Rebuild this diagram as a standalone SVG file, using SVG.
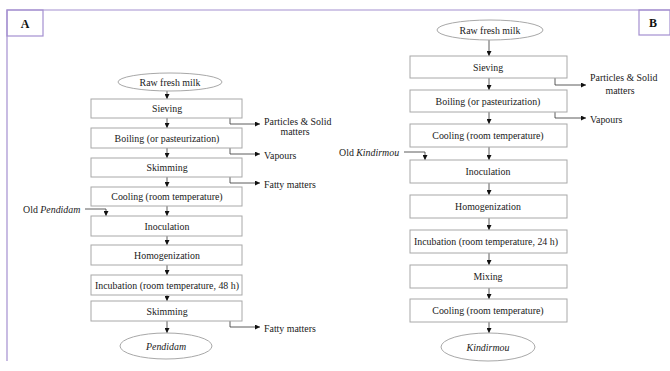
<svg xmlns="http://www.w3.org/2000/svg" width="670" height="371" viewBox="0 0 670 371">
<style>
.bx{fill:#fff;stroke:#a8a8a8;stroke-width:1}
.el{fill:#fff;stroke:#a8a8a8;stroke-width:1}
.t{font-family:"Liberation Serif","Times New Roman",serif;font-size:9.9px;fill:#1a1a1a;text-anchor:middle;dominant-baseline:central}
.s{font-family:"Liberation Serif","Times New Roman",serif;font-size:9.9px;fill:#1a1a1a;dominant-baseline:central}
.i{font-style:italic}
.c{fill:none;stroke:#333;stroke-width:0.8}
.fr{fill:none;stroke:#a48fd0;stroke-width:1.2}
.lb{font-family:"Liberation Serif","Times New Roman",serif;font-size:12px;font-weight:bold;fill:#111;text-anchor:middle;dominant-baseline:central}
</style>
<defs>
<marker id="ah" viewBox="0 0 6 6" refX="6" refY="3" markerWidth="5" markerHeight="5" orient="auto" markerUnits="userSpaceOnUse">
<path d="M0,0 L6,3 L0,6 z" fill="#111"/>
</marker>
</defs>
<g id="frame">
<path class="fr" d="M7,361 V10 H670"/>
<rect class="fr" x="7" y="10" width="36" height="26" fill="#fff"/>
<rect class="fr" x="639" y="10" width="31" height="25" fill="#fff"/>
<text class="lb" x="25" y="23.5">A</text>
<text class="lb" x="653" y="23">B</text>
</g>
<g id="connectors">
<path class="c" marker-end="url(#ah)" d="M167,91 V99"/>
<path class="c" marker-end="url(#ah)" d="M167,118 V128"/>
<path class="c" marker-end="url(#ah)" d="M167,148 V158"/>
<path class="c" marker-end="url(#ah)" d="M167,177 V187"/>
<path class="c" marker-end="url(#ah)" d="M167,206 V216"/>
<path class="c" marker-end="url(#ah)" d="M167,236 V245"/>
<path class="c" marker-end="url(#ah)" d="M167,265 V275"/>
<path class="c" marker-end="url(#ah)" d="M167,295 V301"/>
<path class="c" marker-end="url(#ah)" d="M167,321 V333"/>
<path class="c" marker-end="url(#ah)" d="M230,118 V124 H260"/>
<path class="c" marker-end="url(#ah)" d="M230,148 V154 H260"/>
<path class="c" marker-end="url(#ah)" d="M230,177 V183 H260"/>
<path class="c" marker-end="url(#ah)" d="M230,321 V327 H260"/>
<path class="c" marker-end="url(#ah)" d="M85,209 H106 V216"/>
<path class="c" marker-end="url(#ah)" d="M489,40 V56"/>
<path class="c" marker-end="url(#ah)" d="M489,78 V90"/>
<path class="c" marker-end="url(#ah)" d="M489,112 V124"/>
<path class="c" marker-end="url(#ah)" d="M489,147 V160"/>
<path class="c" marker-end="url(#ah)" d="M489,183 V195"/>
<path class="c" marker-end="url(#ah)" d="M489,218 V230"/>
<path class="c" marker-end="url(#ah)" d="M489,253 V265"/>
<path class="c" marker-end="url(#ah)" d="M489,288 V299"/>
<path class="c" marker-end="url(#ah)" d="M489,322 V333"/>
<path class="c" marker-end="url(#ah)" d="M555,78 V85 H586"/>
<path class="c" marker-end="url(#ah)" d="M555,112 V118 H586"/>
<path class="c" marker-end="url(#ah)" d="M404,152 H425 V160"/>
</g>
<g id="A-nodes">
<g id="a-raw"><ellipse class="el" cx="170" cy="82" rx="52" ry="9"/><text class="t" x="170" y="82">Raw fresh milk</text></g>
<g id="a-sieving"><rect class="bx" x="91" y="99" width="151" height="19"/><text class="t" x="167" y="108.5">Sieving</text></g>
<g id="a-boiling"><rect class="bx" x="91" y="128" width="151" height="20"/><text class="t" x="167" y="138">Boiling (or pasteurization)</text></g>
<g id="a-skimming1"><rect class="bx" x="91" y="158" width="151" height="19"/><text class="t" x="167" y="167.5">Skimming</text></g>
<g id="a-cooling"><rect class="bx" x="91" y="187" width="151" height="19"/><text class="t" x="167" y="196.5">Cooling (room temperature)</text></g>
<g id="a-inoculation"><rect class="bx" x="91" y="216" width="151" height="20"/><text class="t" x="167" y="226">Inoculation</text></g>
<g id="a-homog"><rect class="bx" x="91" y="245" width="151" height="20"/><text class="t" x="167" y="255">Homogenization</text></g>
<g id="a-incubation"><rect class="bx" x="91" y="275" width="151" height="20"/><text class="t" x="167" y="285">Incubation (room temperature, 48 h)</text></g>
<g id="a-skimming2"><rect class="bx" x="91" y="301" width="151" height="20"/><text class="t" x="167" y="311">Skimming</text></g>
<g id="a-pendidam"><ellipse class="el" cx="166" cy="346" rx="46" ry="13"/><text class="t i" x="166" y="346">Pendidam</text></g>
<g id="a-particles"><text class="s" x="264" y="121">Particles &amp; Solid</text><text class="t" x="295" y="131">matters</text></g>
<g id="a-vapours"><text class="s" x="264" y="155">Vapours</text></g>
<g id="a-fatty1"><text class="s" x="264" y="184">Fatty matters</text></g>
<g id="a-fatty2"><text class="s" x="264" y="328">Fatty matters</text></g>
<g id="a-old"><text class="s" x="23" y="209">Old <tspan class="i">Pendidam</tspan></text></g>
</g>
<g id="B-nodes">
<g id="b-raw"><ellipse class="el" cx="490" cy="30" rx="53" ry="10"/><text class="t" x="490" y="30">Raw fresh milk</text></g>
<g id="b-sieving"><rect class="bx" x="410" y="56" width="157" height="22"/><text class="t" x="488" y="67">Sieving</text></g>
<g id="b-boiling"><rect class="bx" x="410" y="90" width="157" height="22"/><text class="t" x="488" y="101">Boiling (or pasteurization)</text></g>
<g id="b-cooling1"><rect class="bx" x="410" y="124" width="157" height="23"/><text class="t" x="488" y="135.5">Cooling (room temperature)</text></g>
<g id="b-inoculation"><rect class="bx" x="410" y="160" width="157" height="23"/><text class="t" x="488" y="171.5">Inoculation</text></g>
<g id="b-homog"><rect class="bx" x="410" y="195" width="157" height="23"/><text class="t" x="488" y="206.5">Homogenization</text></g>
<g id="b-incubation"><rect class="bx" x="410" y="230" width="157" height="23"/><text class="t" x="486" y="241.5">Incubation (room temperature, 24 h)</text></g>
<g id="b-mixing"><rect class="bx" x="410" y="265" width="157" height="23"/><text class="t" x="488" y="276.5">Mixing</text></g>
<g id="b-cooling2"><rect class="bx" x="410" y="299" width="157" height="23"/><text class="t" x="488" y="310.5">Cooling (room temperature)</text></g>
<g id="b-kindirmou"><ellipse class="el" cx="488" cy="347" rx="47" ry="14"/><text class="t i" x="488" y="347">Kindirmou</text></g>
<g id="b-particles"><text class="s" x="590" y="77">Particles &amp; Solid</text><text class="t" x="620" y="90">matters</text></g>
<g id="b-vapours"><text class="s" x="590" y="119">Vapours</text></g>
<g id="b-old"><text class="s" x="339" y="152">Old <tspan class="i">Kindirmou</tspan></text></g>
</g>
</svg>
